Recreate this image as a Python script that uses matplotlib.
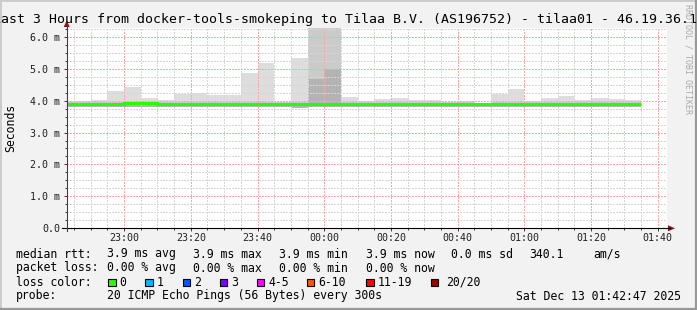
import matplotlib

matplotlib.use("Agg")
import matplotlib.pyplot as plt
from matplotlib.lines import Line2D
from matplotlib.patches import Polygon, Rectangle
from matplotlib.ticker import FixedLocator, MultipleLocator

W, H = 697, 310
MONO = "DejaVu Sans Mono"

# 5-minute smokeping bins, labelled by their end time
bin_end = [
    "22:45", "22:50", "22:55", "23:00", "23:05", "23:10", "23:15", "23:20",
    "23:25", "23:30", "23:35", "23:40", "23:45", "23:50", "23:55", "00:00",
    "00:05", "00:10", "00:15", "00:20", "00:25", "00:30", "00:35", "00:40",
    "00:45", "00:50", "00:55", "01:00", "01:05", "01:10", "01:15", "01:20",
    "01:25", "01:30", "01:35",
]
# rtt in ms
rtt_max = [
    3.98, 3.98, 4.01, 4.31, 4.44, 4.08, 4.02, 4.20, 4.24, 4.16, 4.19, 4.87,
    5.19, 3.95, 5.32, 6.29, 6.29, 4.12, 3.98, 4.05, 4.08, 4.01, 4.02, 3.96,
    3.99, 3.94, 4.20, 4.35, 3.98, 4.07, 4.15, 4.02, 4.09, 4.05, 4.01,
]
rtt_mid = [
    3.96, 3.96, 3.96, 3.96, 3.97, 3.97, 3.96, 3.96, 3.96, 3.97, 3.96, 3.96,
    3.96, 3.95, 3.96, 6.29, 6.29, 3.96, 3.96, 3.96, 3.96, 3.97, 3.96, 3.96,
    3.96, 3.94, 3.96, 3.96, 3.96, 3.96, 3.96, 3.96, 3.96, 3.96, 3.96,
]
rtt_core = [
    3.87, 3.87, 3.87, 3.87, 3.90, 3.90, 3.87, 3.87, 3.87, 3.87, 3.87, 3.87,
    3.87, 3.87, 3.87, 4.68, 4.99, 3.87, 3.87, 3.87, 3.87, 3.87, 3.87, 3.87,
    3.87, 3.87, 3.87, 3.87, 3.87, 3.87, 3.87, 3.87, 3.87, 3.87, 3.87,
]
rtt_min = [
    3.80, 3.80, 3.80, 3.80, 3.81, 3.81, 3.80, 3.80, 3.79, 3.80, 3.80, 3.80,
    3.80, 3.80, 3.78, 3.80, 3.80, 3.80, 3.80, 3.80, 3.80, 3.80, 3.80, 3.80,
    3.80, 3.80, 3.80, 3.80, 3.79, 3.80, 3.80, 3.80, 3.79, 3.80, 3.80,
]
rtt_median = [
    3.88, 3.88, 3.88, 3.88, 3.91, 3.91, 3.88, 3.88, 3.88, 3.88, 3.88, 3.88,
    3.88, 3.88, 3.88, 3.88, 3.88, 3.88, 3.88, 3.88, 3.88, 3.88, 3.88, 3.88,
    3.88, 3.88, 3.88, 3.88, 3.88, 3.88, 3.88, 3.88, 3.88, 3.88, 3.88,
]

x_ticks = ["23:00", "23:20", "23:40", "00:00", "00:20", "00:40", "01:00", "01:20", "01:40"]
y_ticks = [0, 1, 2, 3, 4, 5, 6]
y_labels = ["0.0", "1.0 m", "2.0 m", "3.0 m", "4.0 m", "5.0 m", "6.0 m"]

loss_labels = ["0", "1", "2", "3", "4-5", "6-10", "11-19", "20/20"]
loss_colors = ["#26ff00", "#00b8ff", "#0059ff", "#7e00ff", "#ff00ff", "#ff5500", "#ff0000", "#a00000"]

stats_rtt = ["3.9 ms avg", "3.9 ms max", "3.9 ms min", "3.9 ms now", "0.0 ms sd", "340.1", "am/s"]
stats_loss = ["0.00 % avg", "0.00 % max", "0.00 % min", "0.00 % now"]


def to_min(s):
    # minutes after 22:00, wrapping past midnight
    parts = [int(p) for p in s.split(":")]
    h = parts[0] + 24 if parts[0] < 12 else parts[0]
    sec = parts[2] if len(parts) > 2 else 0
    return (h - 22) * 60 + parts[1] + sec / 60


def px(x, y):
    return x / W, 1 - y / H


edges = [to_min(bin_end[0]) - 5] + [to_min(s) for s in bin_end]

fig = plt.figure(figsize=(W / 100, H / 100), dpi=100, facecolor="#f2f2f2")

left, right, top, bottom = 66.7, 667.0, 27.5, 228.3
ax = fig.add_axes([left / W, 1 - bottom / H, (right - left) / W, (bottom - top) / H])
ax.set_facecolor("white")

# smoke
ax.stairs(rtt_max, edges, baseline=rtt_min, fill=True, color="#dddddd", lw=0, zorder=1)
ax.stairs(rtt_mid, edges, baseline=rtt_min, fill=True, color="#cbcbcb", lw=0, zorder=1.1)
ax.stairs(rtt_core, edges, baseline=rtt_min, fill=True, color="#b3b3b3", lw=0, zorder=1.2)
ax.stairs(rtt_median, edges, baseline=None, color="#26ff00", lw=2.2, zorder=3)

ax.set_xlim(to_min("22:42:47"), to_min("01:42:47"))
ax.set_ylim(0, 6.29)

ax.xaxis.set_major_locator(FixedLocator([to_min(t) for t in x_ticks]))
ax.set_xticklabels(x_ticks)
ax.xaxis.set_minor_locator(MultipleLocator(5))
ax.set_yticks(y_ticks)
ax.set_yticklabels(y_labels)
ax.yaxis.set_minor_locator(MultipleLocator(0.25))

ax.set_axisbelow(False)
ax.grid(which="minor", color="#d6d6d6", ls=(0, (1.4, 1.4)), lw=0.72, antialiased=False)
ax.grid(which="major", color="#f4aaaa", ls=(0, (1.4, 1.4)), lw=0.72, antialiased=False)

for s in ax.spines.values():
    s.set_visible(False)

ax.tick_params(which="both", direction="out", color="#404040", width=0.72)
ax.tick_params(which="major", length=2.2)
ax.tick_params(which="minor", length=1.4)
ax.tick_params(axis="x", which="major", pad=1.2, labelsize=7.2)
ax.tick_params(axis="y", which="major", pad=2.7, labelsize=7.2)
for lab in ax.get_xticklabels() + ax.get_yticklabels():
    lab.set_family(MONO)
    lab.set_color("#202020")

# axis lines with arrows
fig.add_artist(Line2D(*zip(px(62, bottom), px(670, bottom)), transform=fig.transFigure, color="black", lw=0.8))
fig.add_artist(Line2D(*zip(px(left, 231), px(left, 24)), transform=fig.transFigure, color="#404040", lw=0.8))
arrow = "#901010"
fig.add_artist(Polygon([px(668, 225.3), px(675, bottom), px(668, 231.3)], closed=True,
                       transform=fig.transFigure, color=arrow, lw=0))
fig.add_artist(Polygon([px(63.7, 27), px(left, 20.5), px(69.7, 27)], closed=True,
                       transform=fig.transFigure, color=arrow, lw=0))

# frame shading
fig.add_artist(Line2D([0, 1], [1 - 0.5 / H] * 2, transform=fig.transFigure, color="#cbcbcb", lw=1.4))
fig.add_artist(Line2D([0.5 / W] * 2, [0, 1], transform=fig.transFigure, color="#cbcbcb", lw=1.4))
fig.add_artist(Line2D([0, 1], [1 / H] * 2, transform=fig.transFigure, color="#999999", lw=1.6))
fig.add_artist(Line2D([1 - 1 / W] * 2, [0, 1], transform=fig.transFigure, color="#999999", lw=1.6))

# title (too long for the canvas, clipped on both sides like the original)
fig.text(*px(-6.7, 23), "Last 3 Hours from docker-tools-smokeping to Tilaa B.V. (AS196752) - tilaa01 - 46.19.36.1",
         family=MONO, fontsize=9.5, ha="left", va="baseline", color="black")

fig.text(*px(10.5, 128), "Seconds", rotation=90, family=MONO, fontsize=8.3, ha="center", va="center")
fig.text(*px(688, 4), "RRDTOOL / TOBI OETIKER", rotation=-90, family=MONO, fontsize=6,
         ha="center", va="top", color="#aaaaaa")

# legend block
fs = 8.3
col_x = [107.3, 193.3, 279.3, 365.7, 450.7, 529.3, 593.3]
rows_y = [257.5, 271.5, 285.5, 299.5]

fig.text(*px(16, rows_y[0]), "median rtt:", family=MONO, fontsize=fs, va="baseline")
for x, s in zip(col_x, stats_rtt):
    fig.text(*px(x, rows_y[0]), s, family=MONO, fontsize=fs, va="baseline")

fig.text(*px(16, rows_y[1]), "packet loss:", family=MONO, fontsize=fs, va="baseline")
for x, s in zip(col_x, stats_loss):
    fig.text(*px(x, rows_y[1]), s, family=MONO, fontsize=fs, va="baseline")

fig.text(*px(16, rows_y[2]), "loss color:", family=MONO, fontsize=fs, va="baseline")
box_x = [108, 145.3, 182.7, 220, 256.7, 306.7, 366, 430.7]
lab_x = [119.3, 156.7, 194, 231.3, 268, 318, 377.3, 445.7]
for bx, lx, lab, c in zip(box_x, lab_x, loss_labels, loss_colors):
    fig.add_artist(Rectangle(px(bx, 286), 7.5 / W, 7.5 / H, transform=fig.transFigure,
                             facecolor=c, edgecolor="black", lw=0.8))
    fig.text(*px(lx, rows_y[2]), lab, family=MONO, fontsize=fs, va="baseline")

fig.text(*px(16, rows_y[3]), "probe:", family=MONO, fontsize=fs, va="baseline")
fig.text(*px(107.3, rows_y[3]), "20 ICMP Echo Pings (56 Bytes) every 300s", family=MONO, fontsize=fs, va="baseline")
fig.text(*px(681, rows_y[3]), "Sat Dec 13 01:42:47 2025", family=MONO, fontsize=fs, va="baseline", ha="right")

fig.savefig("out.png", dpi=100, facecolor=fig.get_facecolor())
